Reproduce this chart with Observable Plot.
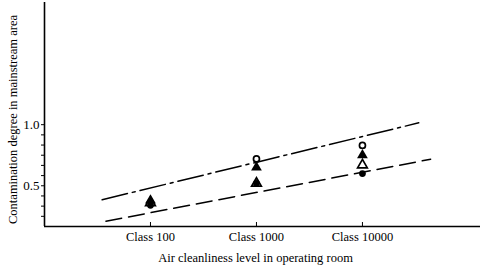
<!DOCTYPE html>
<html>
<head>
<meta charset="utf-8">
<script src="https://cdn.jsdelivr.net/npm/d3@7"></script>
<script src="https://cdn.jsdelivr.net/npm/@observablehq/plot@0.6"></script>
<style>
  html, body { margin: 0; padding: 0; background: #fff; }
  svg { display: block; }
</style>
</head>
<body>
<div id="chart"></div>
<script>
// Categories (cleanliness class, log-spaced)
const classes = [100, 1000, 10000];
const classLabels = ["Class 100", "Class 1000", "Class 10000"];

// Series values (contamination degree)
const openCircle     = [0.36, 0.72, 0.83];
const filledTriangle = [0.38, 0.65, 0.75];
const openTriangle   = [0.36, 0.52, 0.67];
const filledCircle   = [0.34, 0.52, 0.60];

// Trend lines
const dashDotX = [35, 34000];
const dashDotY = [0.386, 1.015];
const dashedX  = [38, 44000];
const dashedY  = [0.21, 0.717];

// Y tick values and labels
const yTicks = [0.25, 0.3333, 0.4167, 0.5, 0.5833, 0.6667, 0.75, 0.8333, 0.9167, 1.0];
const yTickLabels = {0.5: "0.5", 1.0: "1.0"};

const yLabel = "Contamination degree in mainstream area";
const xLabel = "Air cleanliness level in operating room";

const yDomain = [1 / 6, 2];
const xDomain = [10, 130000];

const toRows = (xs, ys) => xs.map((x, i) => ({x, y: ys[i]}));

const plot = Plot.plot({
  width: 480,
  height: 268,
  marginLeft: 44,
  marginRight: 0,
  marginTop: 2,
  marginBottom: 42,
  style: {fontFamily: "'Liberation Serif', serif", fontSize: "12px", color: "#000", background: "#fff"},
  x: {type: "log", domain: xDomain},
  y: {domain: yDomain},
  marks: [
    Plot.ruleX([xDomain[0]], {stroke: "#000", strokeWidth: 1.6}),
    Plot.ruleY([yDomain[0]], {stroke: "#000", strokeWidth: 1.6}),
    Plot.axisY({ticks: yTicks, tickFormat: d => yTickLabels[d] ?? "", tickSize: 3, tickPadding: 2, label: null, fontSize: 13}),
    Plot.axisX({ticks: classes, tickFormat: d => classLabels[classes.indexOf(d)], tickSize: -4, tickPadding: 10, label: null, fontSize: 12.5}),
    Plot.text([yLabel], {frameAnchor: "left", textAnchor: "middle", rotate: -90, dx: -32, dy: 5, fontSize: 12.5, text: d => d}),
    Plot.text([xLabel], {frameAnchor: "bottom", dy: 35, dx: -7, fontSize: 12.5, text: d => d}),
    Plot.line(toRows(dashDotX, dashDotY), {x: "x", y: "y", stroke: "#000", strokeWidth: 1.5, strokeDasharray: "26,5,3,5"}),
    Plot.line(toRows(dashedX, dashedY), {x: "x", y: "y", stroke: "#000", strokeWidth: 1.5, strokeDasharray: "16,7"}),
    Plot.dot(toRows(classes, openCircle), {x: "x", y: "y", symbol: "circle", r: 3, stroke: "#000", strokeWidth: 1.7, fill: "#fff"}),
    Plot.dot(toRows(classes, openTriangle), {x: "x", y: "y", symbol: "triangle", r: 3.6, stroke: "#000", strokeWidth: 1.7, fill: "#fff"}),
    Plot.dot(toRows(classes, filledCircle), {x: "x", y: "y", symbol: "circle", r: 3.4, fill: "#000", stroke: "none"}),
    Plot.dot(toRows(classes, filledTriangle), {x: "x", y: "y", symbol: "triangle", r: 4, fill: "#000", stroke: "none"})
  ]
});
document.getElementById("chart").appendChild(plot);
</script>
</body>
</html>
